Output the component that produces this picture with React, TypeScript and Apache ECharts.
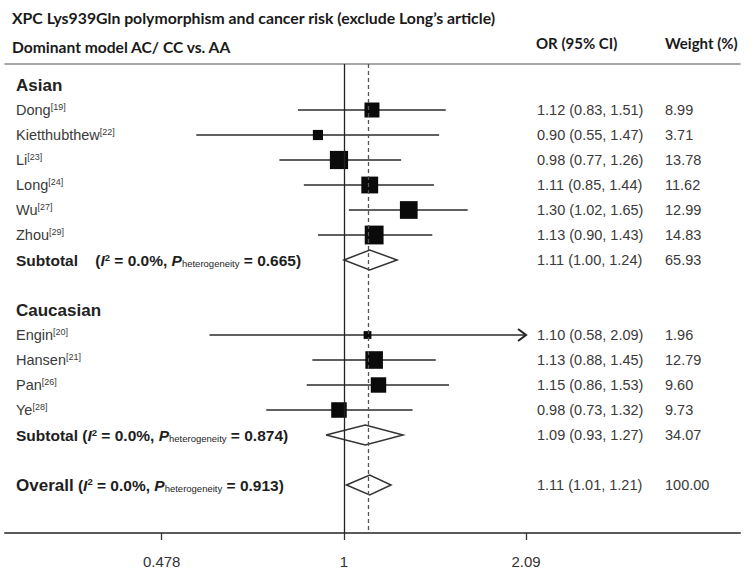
import React, { useEffect, useRef } from "react";
import * as echarts from "echarts";

const TITLE = "XPC Lys939Gln polymorphism and cancer risk (exclude Long’s article)";
const SUBTITLE = "Dominant model AC/ CC vs. AA";
const COL_HEADERS = ["OR (95% CI)", "Weight (%)"];

const GROUPS = ["Asian", "Caucasian"];
const GROUP_ROWS = [0, 9];

const STUDIES = ["Dong", "Kietthubthew", "Li", "Long", "Wu", "Zhou", "Engin", "Hansen", "Pan", "Ye"];
const REFS = ["19", "22", "23", "24", "27", "29", "20", "21", "26", "28"];
const STUDY_ROWS = [1, 2, 3, 4, 5, 6, 10, 11, 12, 13];
const OR = [1.12, 0.9, 0.98, 1.11, 1.3, 1.13, 1.1, 1.13, 1.15, 0.98];
const LO = [0.83, 0.55, 0.77, 0.85, 1.02, 0.9, 0.58, 0.88, 0.86, 0.73];
const HI = [1.51, 1.47, 1.26, 1.44, 1.65, 1.43, 2.09, 1.45, 1.53, 1.32];
const WEIGHT = [8.99, 3.71, 13.78, 11.62, 12.99, 14.83, 1.96, 12.79, 9.6, 9.73];

const POOLED_LABELS = ["Subtotal", "Subtotal", "Overall"];
const POOLED_ROWS = [7, 14, 16];
const POOLED_OR = [1.11, 1.09, 1.11];
const POOLED_LO = [1.0, 0.93, 1.01];
const POOLED_HI = [1.24, 1.27, 1.21];
const POOLED_WEIGHT = [65.93, 34.07, 100.0];
const I2 = ["0.0%", "0.0%", "0.0%"];
const P_HET = ["0.665", "0.874", "0.913"];

const TICK_VALUES = [0.478, 1, 2.09];
const TICK_LABELS = ["0.478", "1", "2.09"];
const AXIS_RANGE = [0.2535, 4.97];
const ROW_RANGE = [-0.84, 17.92];

const SANS = "'Liberation Sans', Arial, sans-serif";
const HEAD = "Lato, 'Open Sans', sans-serif";

export default function App() {
  const ref = useRef<HTMLDivElement>(null);
  useEffect(() => {
    const el = ref.current!;
    const chart = echarts.init(el, undefined, { renderer: "svg" });
    const ln = Math.log;
    const maxTick = TICK_VALUES[TICK_VALUES.length - 1];
    const ciData = STUDIES.map((_, i) => [ln(LO[i]), ln(HI[i]), STUDY_ROWS[i], HI[i] >= maxTick ? 1 : 0]);
    const sqData = STUDIES.map((_, i) => [ln(OR[i]), STUDY_ROWS[i], WEIGHT[i]]);
    const dmData = POOLED_ROWS.map((r, i) => [ln(POOLED_LO[i]), ln(POOLED_HI[i]), ln(POOLED_OR[i]), r]);
    const tickLn = TICK_VALUES.map((t) => ln(t));

    chart.setOption({
      animation: false,
      backgroundColor: "#fff",
      grid: { left: 5, right: 10, top: 64, bottom: 48, containLabel: false },
      xAxis: [
        {
          type: "value",
          min: ln(AXIS_RANGE[0]),
          max: ln(AXIS_RANGE[1]),
          position: "bottom",
          splitLine: { show: false },
          axisLine: { show: true, onZero: false, lineStyle: { color: "#5a5a5a", width: 2 } },
          axisTick: { show: true, customValues: tickLn, length: 7, lineStyle: { color: "#333", width: 1.3 } },
          axisLabel: {
            customValues: tickLn,
            margin: 21,
            color: "#333",
            fontSize: 15,
            fontFamily: SANS,
            formatter: (v: number) => {
              const idx = tickLn.findIndex((t) => Math.abs(t - v) < 1e-6);
              return idx >= 0 ? TICK_LABELS[idx] : "";
            },
          },
        },
        {
          type: "value",
          min: ln(AXIS_RANGE[0]),
          max: ln(AXIS_RANGE[1]),
          position: "top",
          splitLine: { show: false },
          axisLine: { show: true, onZero: false, lineStyle: { color: "#8a8a8a", width: 1.5 } },
          axisTick: { show: false },
          axisLabel: { show: false },
        },
      ],
      yAxis: {
        type: "value",
        inverse: true,
        min: ROW_RANGE[0],
        max: ROW_RANGE[1],
        show: false,
        splitLine: { show: false },
      },
      series: [
        {
          type: "custom",
          z: 2,
          encode: { x: [0, 1], y: 2 },
          data: ciData,
          renderItem: (params: any, api: any) => {
            const p1 = api.coord([api.value(0), api.value(2)]);
            const p2 = api.coord([api.value(1), api.value(2)]);
            const children: any[] = [
              {
                type: "line",
                shape: { x1: p1[0], y1: p1[1], x2: p2[0], y2: p2[1] },
                style: { stroke: "#2b2b2b", lineWidth: 1.6 },
              },
            ];
            if (api.value(3) === 1) {
              children.push({
                type: "polyline",
                shape: { points: [[p2[0] - 8, p2[1] - 6], [p2[0], p2[1]], [p2[0] - 8, p2[1] + 6]] },
                style: { stroke: "#222", lineWidth: 2, fill: "none" },
              });
            }
            return { type: "group", children };
          },
          markLine: {
            silent: true,
            symbol: ["none", "none"],
            label: { show: false },
            data: [
              { xAxis: 0, lineStyle: { type: "solid", color: "#222", width: 1.3 } },
              { xAxis: ln(POOLED_OR[POOLED_OR.length - 1]), lineStyle: { type: [4, 3], color: "#555", width: 1.3 } },
            ],
          },
        },
        {
          type: "scatter",
          z: 4,
          symbol: "rect",
          data: sqData,
          symbolSize: (v: number[]) => 4.5 * Math.sqrt(v[2]) + 1.5,
          itemStyle: { color: "#0a0a0a", opacity: 1 },
          silent: true,
        },
        {
          type: "custom",
          z: 3,
          encode: { x: [0, 1, 2], y: 3 },
          data: dmData,
          renderItem: (params: any, api: any) => {
            const y = api.value(3);
            const l = api.coord([api.value(0), y]);
            const r = api.coord([api.value(1), y]);
            const c = api.coord([api.value(2), y]);
            const h = 10;
            return {
              type: "polygon",
              shape: { points: [[l[0], l[1]], [c[0], c[1] - h], [r[0], r[1]], [c[0], c[1] + h]] },
              style: { fill: "none", stroke: "#333", lineWidth: 1.5 },
            };
          },
        },
      ],
    });

    const yPix = (r: number) => chart.convertToPixel({ yAxisIndex: 0 }, r) as number;
    const graphics: any[] = [];
    const txt = (x: number, y: number, text: string, style: any) => {
      graphics.push({ type: "text", x, y, style: { text, verticalAlign: "middle", ...style } });
    };

    txt(12, 17, TITLE, { fontFamily: HEAD, fontWeight: "bold", fontSize: 15.8, fill: "#1a1a1a" });
    txt(12, 47, SUBTITLE, { fontFamily: HEAD, fontWeight: "bold", fontSize: 15.6, fill: "#1a1a1a" });
    txt(536, 43, COL_HEADERS[0], { fontFamily: HEAD, fontWeight: "bold", fontSize: 15, fill: "#1a1a1a" });
    txt(665, 43, COL_HEADERS[1], { fontFamily: HEAD, fontWeight: "bold", fontSize: 15, fill: "#1a1a1a" });

    GROUPS.forEach((g, i) => {
      txt(16, yPix(GROUP_ROWS[i]), g, { fontFamily: SANS, fontWeight: "bold", fontSize: 17, fill: "#222" });
    });

    STUDIES.forEach((s, i) => {
      const y = yPix(STUDY_ROWS[i]);
      txt(16, y, `{n|${s}}{s|[${REFS[i]}]}`, {
        rich: {
          n: { fontFamily: SANS, fontSize: 14.5, fill: "#3a3a3a" },
          s: { fontFamily: SANS, fontSize: 9, fill: "#3a3a3a", verticalAlign: "top" },
        },
      });
      txt(537, y, `${OR[i].toFixed(2)} (${LO[i].toFixed(2)}, ${HI[i].toFixed(2)})`, {
        fontFamily: SANS,
        fontSize: 14.5,
        fill: "#3a3a3a",
      });
      txt(665, y, WEIGHT[i].toFixed(2), { fontFamily: SANS, fontSize: 14.5, fill: "#3a3a3a" });
    });

    POOLED_ROWS.forEach((r, i) => {
      const y = yPix(r);
      const isOverall = i === POOLED_ROWS.length - 1;
      const gap = i === 0 ? "    " : " ";
      const bf = { fontFamily: SANS, fontWeight: "bold", fontSize: 15.5, fill: "#1e1e1e" };
      txt(16, y, `{h|${POOLED_LABELS[i]}}{b|${gap}(}{i|I}{sup|2}{b| = ${I2[i]}, }{i|P}{sub|heterogeneity}{b| = ${P_HET[i]})}`, {
        rich: {
          h: { ...bf, fontSize: isOverall ? 17 : 15.5 },
          b: bf,
          i: { ...bf, fontStyle: "italic" },
          sup: { ...bf, fontSize: 9.5, verticalAlign: "top" },
          sub: { ...bf, fontWeight: "normal", fontSize: 9.5, verticalAlign: "bottom" },
        },
      });
      txt(537, y, `${POOLED_OR[i].toFixed(2)} (${POOLED_LO[i].toFixed(2)}, ${POOLED_HI[i].toFixed(2)})`, {
        fontFamily: SANS,
        fontSize: 14.5,
        fill: "#3a3a3a",
      });
      txt(665, y, POOLED_WEIGHT[i].toFixed(2), { fontFamily: SANS, fontSize: 14.5, fill: "#3a3a3a" });
    });

    chart.setOption({ graphic: graphics });
    return () => chart.dispose();
  }, []);
  return (
    <div
      ref={ref}
      style={{ position: "absolute", left: 0, top: 0, width: 750, height: 581, background: "#fff" }}
    />
  );
}
